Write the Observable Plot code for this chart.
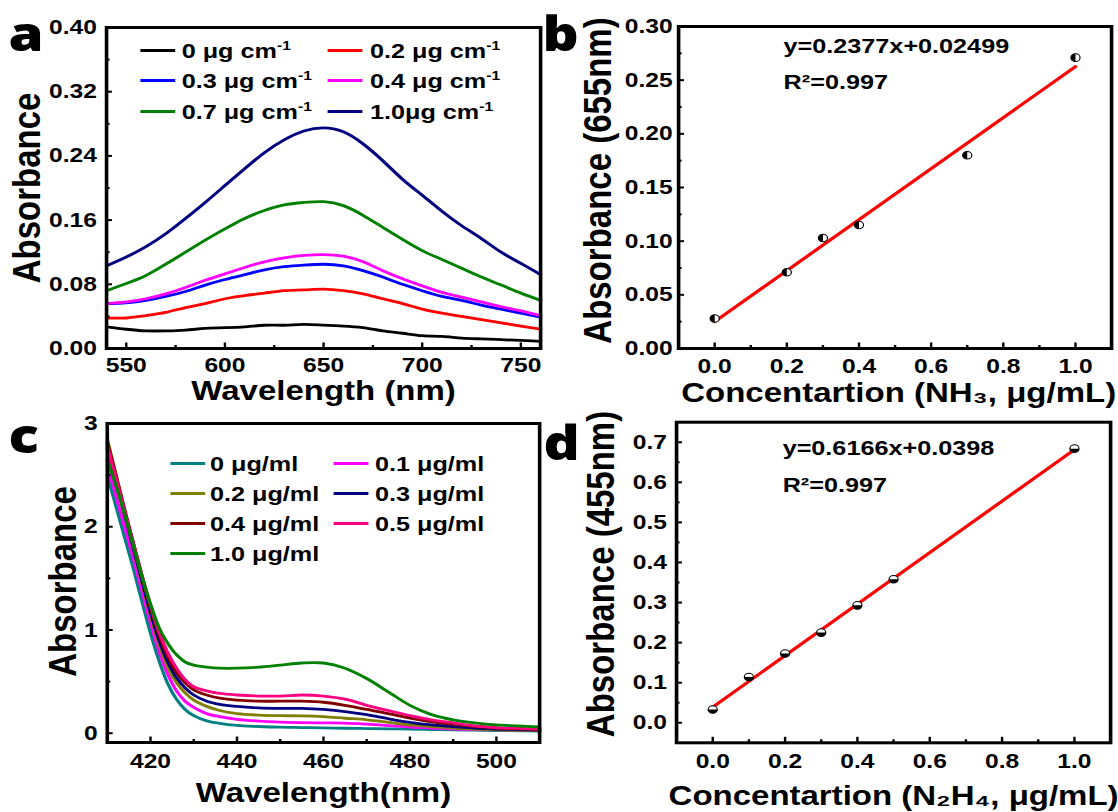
<!DOCTYPE html>
<html><head><meta charset="utf-8">
<script src="https://cdn.jsdelivr.net/npm/d3@7"></script>
<script src="https://cdn.jsdelivr.net/npm/@observablehq/plot@0.6"></script>
<style>
html,body{margin:0;padding:0;background:#fff;overflow:hidden;width:1118px;height:812px;}
#stage{position:absolute;left:0;top:0;width:932px;height:812px;transform:scaleX(1.2);transform-origin:0 0;font-family:"Liberation Sans",Arial,sans-serif;font-weight:bold;color:#000;}
.panel{position:absolute;height:406px;}
.panel svg{display:block;overflow:visible;max-width:none;}
.letter{position:absolute;font-family:"Open Sans",sans-serif;font-weight:800;font-size:47px;line-height:1;}
.legtxt{position:absolute;font-size:21px;white-space:nowrap;line-height:1;}
.legtxt sup{font-size:13px;vertical-align:0;position:relative;top:-8px;}
.sw{position:absolute;height:3px;width:29px;}
</style></head><body><div id="stage"></div>
<script>
// ---------- Panel a data ----------
const wavelengthsA = [540,550,560,570,580,590,600,610,620,630,640,650,660,670,680,690,700,710,720,730,740,750,760];
const labelsA = ["0 μg cm","0.2 μg cm","0.3 μg cm","0.4 μg cm","0.7 μg cm","1.0μg cm"];
const supA = "-1";
const colorsA = ["#000000","#ff0000","#0000ff","#ff00ff","#008000","#000080"];
const absA_0  = [0.027,0.024,0.022,0.022,0.023,0.025,0.026,0.027,0.029,0.029,0.030,0.029,0.028,0.026,0.022,0.019,0.016,0.015,0.013,0.012,0.011,0.010,0.009];
const absA_02 = [0.038,0.038,0.041,0.045,0.051,0.056,0.062,0.066,0.069,0.072,0.073,0.074,0.072,0.068,0.062,0.056,0.049,0.044,0.040,0.036,0.032,0.028,0.024];
const absA_03 = [0.056,0.057,0.060,0.065,0.071,0.079,0.086,0.092,0.098,0.102,0.104,0.105,0.103,0.097,0.089,0.080,0.072,0.065,0.060,0.054,0.049,0.044,0.039];
const absA_04 = [0.056,0.058,0.062,0.068,0.076,0.085,0.093,0.101,0.108,0.113,0.116,0.117,0.115,0.108,0.097,0.087,0.078,0.070,0.064,0.058,0.052,0.047,0.041];
const absA_07 = [0.072,0.081,0.091,0.105,0.120,0.135,0.149,0.162,0.172,0.179,0.182,0.183,0.178,0.166,0.151,0.136,0.122,0.111,0.100,0.089,0.079,0.069,0.060];
const absA_10 = [0.103,0.114,0.127,0.143,0.162,0.182,0.203,0.224,0.244,0.260,0.271,0.275,0.270,0.255,0.234,0.211,0.191,0.171,0.153,0.137,0.120,0.106,0.092];
const xTicksA = [550,600,650,700,750], xMinorA = [575,625,675,725];
const yTicksA = [0,0.08,0.16,0.24,0.32,0.40], yMinorA = [0.04,0.12,0.20,0.28,0.36];

// ---------- Panel b data ----------
const concB = [0,0.2,0.3,0.4,0.7,1.0];
const absB  = [0.028,0.071,0.103,0.115,0.180,0.271];
const eqB = ["y=0.2377x+0.02499","R²=0.997"];
const xTicksB = [0,0.2,0.4,0.6,0.8,1.0], xMinorB = [0.1,0.3,0.5,0.7,0.9];
const yTicksB = [0,0.05,0.10,0.15,0.20,0.25,0.30], yMinorB = [0.025,0.075,0.125,0.175,0.225,0.275];

// ---------- Panel c data ----------
const wavelengthsC = [410,412,414,416,418,420,422,424,426,428,430,433,436,440,445,450,455,460,465,470,475,480,485,490,495,500,505,510];
const labelsC = ["0 μg/ml","0.1 μg/ml","0.2 μg/ml","0.3 μg/ml","0.4 μg/ml","0.5 μg/ml","1.0 μg/ml"];
const colorsC = ["#008080","#ff00ff","#808000","#000080","#800000","#ff0080","#008000"];
const absC_0  = [2.50,2.20,1.90,1.60,1.28,0.97,0.70,0.48,0.33,0.23,0.17,0.12,0.095,0.075,0.065,0.058,0.055,0.052,0.048,0.045,0.042,0.040,0.036,0.032,0.029,0.026,0.023,0.020];
const absC_01 = [2.60,2.30,2.00,1.70,1.38,1.07,0.79,0.57,0.41,0.31,0.25,0.19,0.16,0.135,0.118,0.108,0.103,0.100,0.097,0.087,0.074,0.060,0.050,0.040,0.035,0.032,0.028,0.025];
const absC_02 = [2.85,2.50,2.15,1.80,1.46,1.14,0.86,0.64,0.49,0.39,0.32,0.26,0.22,0.19,0.175,0.170,0.168,0.160,0.145,0.130,0.105,0.080,0.065,0.050,0.040,0.032,0.028,0.025];
const absC_03 = [2.75,2.45,2.12,1.80,1.48,1.17,0.90,0.69,0.54,0.44,0.37,0.31,0.28,0.26,0.245,0.240,0.240,0.230,0.210,0.180,0.140,0.105,0.080,0.065,0.050,0.040,0.035,0.030];
const absC_04 = [2.82,2.50,2.17,1.85,1.53,1.22,0.95,0.74,0.59,0.49,0.42,0.37,0.34,0.32,0.31,0.31,0.31,0.30,0.27,0.23,0.19,0.145,0.110,0.087,0.065,0.050,0.042,0.035];
const absC_05 = [2.78,2.47,2.15,1.84,1.53,1.24,0.98,0.78,0.63,0.52,0.45,0.41,0.385,0.37,0.36,0.36,0.37,0.36,0.33,0.27,0.22,0.17,0.13,0.10,0.07,0.055,0.047,0.040];
const absC_10 = [2.65,2.40,2.12,1.82,1.52,1.25,1.02,0.87,0.76,0.69,0.66,0.64,0.63,0.63,0.64,0.66,0.68,0.68,0.63,0.53,0.40,0.27,0.18,0.13,0.10,0.08,0.07,0.06];
const xTicksC = [420,440,460,480,500], xMinorC = [430,450,470,490];
const yTicksC = [0,1,2,3], yMinorC = [0.5,1.5,2.5];

// ---------- Panel d data ----------
const concD = [0,0.1,0.2,0.3,0.4,0.5,1.0];
const absD  = [0.033,0.114,0.173,0.225,0.293,0.358,0.684];
const eqD = ["y=0.6166x+0.0398","R²=0.997"];
const xTicksD = [0,0.2,0.4,0.6,0.8,1.0], xMinorD = [0.1,0.3,0.5,0.7,0.9];
const yTicksD = [0,0.1,0.2,0.3,0.4,0.5,0.6,0.7], yMinorD = [0.05,0.15,0.25,0.35,0.45,0.55,0.65];

// ---------- helpers ----------
const stage = document.getElementById("stage");
const FONT = '"Liberation Sans", Arial, sans-serif';
const baseStyle = {fontFamily: FONT, fontWeight: "bold", overflow: "visible", background: "transparent", color: "black"};
const halfLeft = {draw(ctx, size){const r = Math.sqrt(size/Math.PI); ctx.moveTo(0,-r); ctx.arc(0,0,r,-Math.PI/2,Math.PI/2,true); ctx.closePath();}};
const halfBottom = {draw(ctx, size){const r = Math.sqrt(size/Math.PI); ctx.moveTo(r,0); ctx.arc(0,0,r,0,Math.PI,false); ctx.closePath();}};
const TICKFONT = 20.5;
const LEFTW = 451, RIGHTX = 445, RIGHTW = 932 - 445; // internal units (screen / 1.2)

function axes(xt, xm, yt, ym, fx, fy, yPad, xPad = 16) {
  return [
    Plot.axisX(xt, {tickSize: -5.5, tickPadding: xPad, strokeWidth: 2, fontSize: TICKFONT, tickFormat: fx}),
    Plot.axisX(xm, {tickSize: -3, tickPadding: xPad, strokeWidth: 2, tickFormat: () => ""}),
    Plot.axisY(yt, {tickSize: -5, tickPadding: yPad, strokeWidth: 2, fontSize: TICKFONT, tickFormat: fy}),
    Plot.axisY(ym, {tickSize: -3, tickPadding: yPad, strokeWidth: 2, tickFormat: () => ""})
  ];
}
function xLabel(t, dy, dx = 0) {
  return Plot.text([t], {text: d => d, frameAnchor: "bottom", dy, dx, fontSize: 27.5, lineAnchor: "middle", textAnchor: "middle"});
}
function yLabel(t, dx, dy = 0) {
  return Plot.text([t], {text: d => d, frameAnchor: "left", rotate: -90, dx, dy, fontSize: 33, lineAnchor: "middle", textAnchor: "middle"});
}
function mount(left, top, width, svg, letterChar, letterLeft, letterTop) {
  const d = document.createElement("div");
  d.className = "panel"; d.style.left = left + "px"; d.style.top = top + "px"; d.style.width = width + "px";
  d.appendChild(svg);
  const l = document.createElement("div");
  l.className = "letter"; l.textContent = letterChar;
  l.style.left = (letterLeft - left) + "px"; l.style.top = (letterTop - top) + "px";
  d.appendChild(l);
  stage.appendChild(d);
}
function longRows(xs, names, cols) {
  return names.flatMap((s, i) => xs.map((w, j) => ({w, v: cols[i][j], s})));
}
function legend(labels, colors, sup, swX, txtX, rowY) {
  labels.forEach((lab, i) => {
    const col = i % 2, row = Math.floor(i / 2);
    const y = rowY[row];
    const sw = document.createElement("div");
    sw.className = "sw"; sw.style.left = swX[col] + "px"; sw.style.top = (y - 1.5) + "px"; sw.style.background = colors[i];
    stage.appendChild(sw);
    const t = document.createElement("div");
    t.className = "legtxt"; t.style.left = txtX[col] + "px"; t.style.top = (y - 10.3) + "px";
    t.textContent = lab;
    if (sup) { const s = document.createElement("sup"); s.textContent = sup; t.appendChild(s); }
    stage.appendChild(t);
  });
}

// ---------- Panel a ----------
mount(0, 0, LEFTW, Plot.plot({
  width: LEFTW, height: 406, marginLeft: 88.3, marginRight: LEFTW - 450, marginTop: 27, marginBottom: 58,
  style: baseStyle,
  x: {domain: [540, 760], label: null},
  y: {domain: [0, 0.40], label: null},
  color: {domain: labelsA, range: colorsA},
  marks: [
    Plot.line(longRows(wavelengthsA, labelsA, [absA_0, absA_02, absA_03, absA_04, absA_07, absA_10]),
      {x: "w", y: "v", z: "s", stroke: "s", strokeWidth: 2.8, curve: "natural"}),
    ...axes(xTicksA, xMinorA, yTicksA, yMinorA, d3.format("d"), d3.format(".2f"), 13, 14.5),
    xLabel("Wavelength (nm)", 43),
    yLabel("Absorbance", -65.8),
    Plot.frame({stroke: "black", strokeWidth: 3})
  ]
}), "a", 7, 9.5);

// ---------- Panel b ----------
const ptsB = concB.map((c, i) => ({c, a: absB[i]}));
mount(RIGHTX, 0, RIGHTW, Plot.plot({
  width: RIGHTW, height: 406, marginLeft: 565 - RIGHTX, marginRight: 6.2, marginTop: 26, marginBottom: 58,
  style: baseStyle,
  x: {domain: [-0.1, 1.1], label: null},
  y: {domain: [0, 0.30], label: null},
  marks: [
    Plot.linearRegressionY(ptsB, {x: "c", y: "a", stroke: "#ff0000", strokeWidth: 3, ci: 0}),
    Plot.dot(ptsB, {x: "c", y: "a", r: 3.8, fill: "white", stroke: "black", strokeWidth: 1}),
    Plot.dot(ptsB, {x: "c", y: "a", r: 3.8, fill: "black", symbol: halfLeft}),
    ...axes(xTicksB, xMinorB, yTicksB, yMinorB, d3.format(".1f"), d3.format(".2f"), 10, 15),
    Plot.text([eqB[0]], {text: d => d, frameAnchor: "top-left", dx: 87.5, dy: 20, textAnchor: "start", lineAnchor: "middle", fontSize: 21}),
    Plot.text([eqB[1]], {text: d => d, frameAnchor: "top-left", dx: 87.5, dy: 56, textAnchor: "start", lineAnchor: "middle", fontSize: 21}),
    xLabel("Concentartion (NH₃, μg/mL)", 45, 3),
    yLabel("Absorbance (655nm)", -67.1, -7),
    Plot.frame({stroke: "black", strokeWidth: 3})
  ]
}), "b", 452, 9.5);

// ---------- Panel c ----------
mount(0, 406, LEFTW, Plot.plot({
  width: LEFTW, height: 406, marginLeft: 88.9, marginRight: LEFTW - 449.2, marginTop: 17, marginBottom: 70,
  style: baseStyle,
  x: {domain: [410, 510], label: null},
  y: {domain: [-0.09, 3.0], label: null},
  color: {domain: labelsC, range: colorsC},
  marks: [
    Plot.line(longRows(wavelengthsC, labelsC, [absC_0, absC_01, absC_02, absC_03, absC_04, absC_05, absC_10]),
      {x: "w", y: "v", z: "s", stroke: "s", strokeWidth: 2.8, curve: "catmull-rom"}),
    ...axes(xTicksC, xMinorC, yTicksC, yMinorC, d3.format("d"), d3.format("d"), 13),
    xLabel("Wavelength(nm)", 51),
    yLabel("Absorbance", -36.7, -1.5),
    Plot.frame({stroke: "black", strokeWidth: 3})
  ]
}), "c", 7, 411.5);

// ---------- Panel d ----------
const ptsD = concD.map((c, i) => ({c, a: absD[i]}));
mount(RIGHTX, 406, RIGHTW, Plot.plot({
  width: RIGHTW, height: 406, marginLeft: 563.3 - RIGHTX, marginRight: 7, marginTop: 15.7, marginBottom: 69.7,
  style: baseStyle,
  x: {domain: [-0.1, 1.1], label: null},
  y: {domain: [-0.05, 0.75], label: null},
  marks: [
    Plot.linearRegressionY(ptsD, {x: "c", y: "a", stroke: "#ff0000", strokeWidth: 3, ci: 0}),
    Plot.dot(ptsD, {x: "c", y: "a", r: 3.8, fill: "white", stroke: "black", strokeWidth: 1}),
    Plot.dot(ptsD, {x: "c", y: "a", r: 3.8, fill: "black", symbol: halfBottom}),
    ...axes(xTicksD, xMinorD, yTicksD, yMinorD, d3.format(".1f"), d3.format(".1f"), 13),
    Plot.text([eqD[0]], {text: d => d, frameAnchor: "top-left", dx: 88.4, dy: 26, textAnchor: "start", lineAnchor: "middle", fontSize: 21}),
    Plot.text([eqD[1]], {text: d => d, frameAnchor: "top-left", dx: 88.4, dy: 63, textAnchor: "start", lineAnchor: "middle", fontSize: 21}),
    xLabel("Concentartion (N₂H₄, μg/mL)", 53),
    yLabel("Absorbance (455nm)", -62.5, -8.5),
    Plot.frame({stroke: "black", strokeWidth: 3})
  ]
}), "d", 453, 419);

// ---------- Legends ----------
legend(labelsA, colorsA, supA, [116.7, 273.3], [151.4, 308.3], [50.5, 80.5, 111]);
legend(labelsC, colorsC, null, [141.7, 277.5], [175, 312.5], [463.3, 493.3, 523.3, 553.3]);
</script></body></html>
